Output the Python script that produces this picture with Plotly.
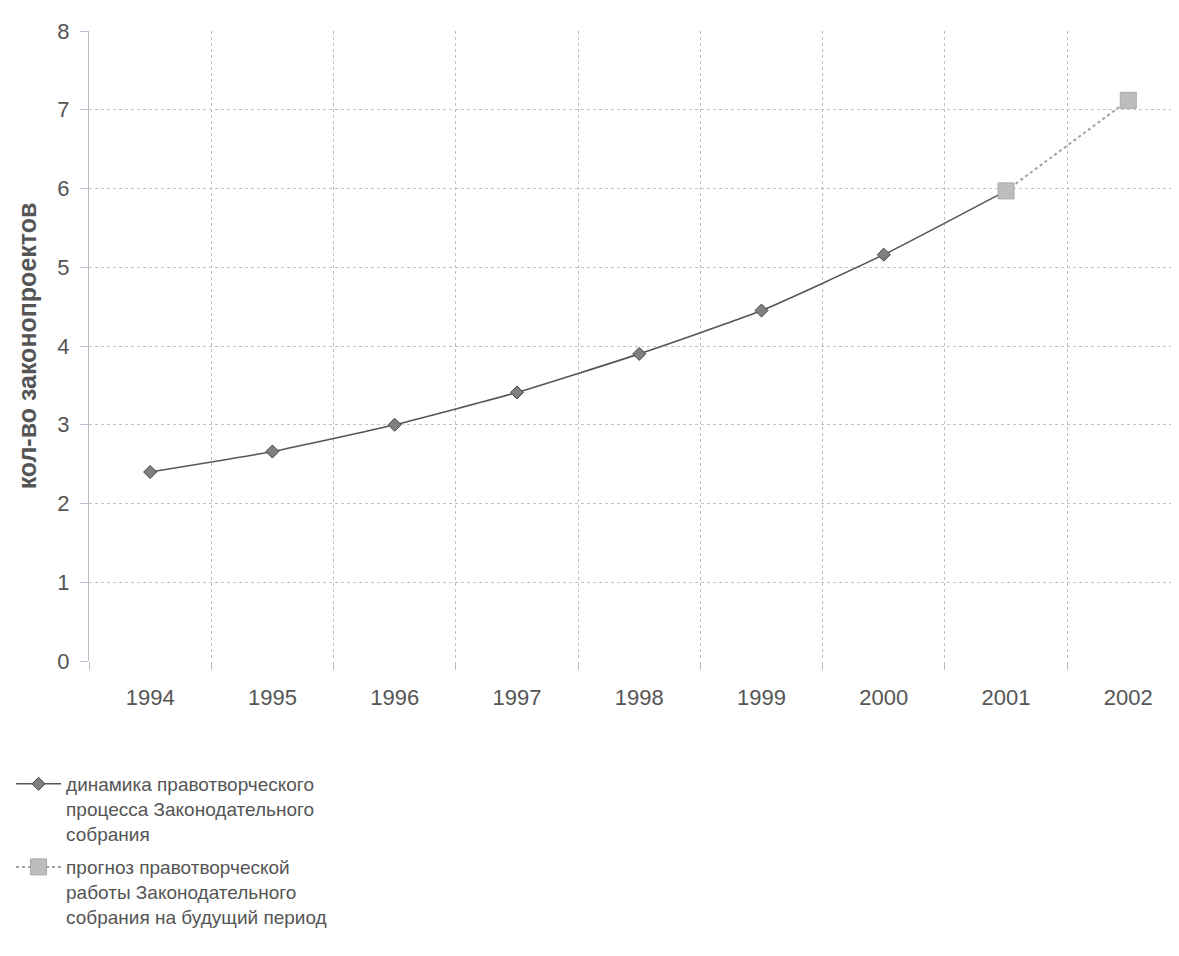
import plotly.graph_objects as go

years = ["1994", "1995", "1996", "1997", "1998", "1999", "2000", "2001", "2002"]
actual_years = ["1994", "1995", "1996", "1997", "1998", "1999", "2000", "2001"]
actual_values = [2.40, 2.66, 3.00, 3.41, 3.90, 4.45, 5.16, 5.97]
forecast_years = ["2001", "2002"]
forecast_values = [5.97, 7.12]
y_ticks = [0, 1, 2, 3, 4, 5, 6, 7, 8]

name_actual = "динамика правотворческого<br>процесса Законодательного<br>собрания"
name_forecast = "прогноз правотворческой<br>работы Законодательного<br>собрания на будущий период"

fig = go.Figure()
fig.add_trace(go.Scatter(
    x=actual_years, y=actual_values, name=name_actual, mode="lines+markers",
    line=dict(color="#555555", width=1.6, shape="spline", smoothing=0.5),
    marker=dict(symbol="diamond", size=10, color="#808080", line=dict(color="#444444", width=1)),
    legendgroup="a",
))
fig.add_trace(go.Scatter(
    x=forecast_years, y=forecast_values, name=name_forecast, mode="lines+markers",
    line=dict(color="#a0a0a0", width=2, dash="dot"),
    marker=dict(symbol="square", size=16, color="#bdbdbd", line=dict(color="#a8a8a8", width=1)),
    legendgroup="b",
))

fig.update_layout(
    width=1179, height=956,
    margin=dict(l=81, r=0, t=23, b=303, autoexpand=False),
    paper_bgcolor="white", plot_bgcolor="white",
    font=dict(family="Liberation Sans, Arial, sans-serif", color="#555555"),
    showlegend=True,
    legend=dict(
        x=-0.071, y=-0.165, xanchor="left", yanchor="top",
        font=dict(size=19, color="#555555"),
        itemwidth=45, tracegroupgap=6, traceorder="grouped", valign="top",
        bgcolor="rgba(0,0,0,0)",
    ),
)
fig.update_xaxes(
    type="category", categoryorder="array", categoryarray=years,
    range=[-0.5, 8.48], tickson="boundaries", automargin=False,
    showgrid=True, gridcolor="#bdbdbd", griddash="dot", gridwidth=1,
    ticks="outside", ticklen=8, tickcolor="#bdbdbd",
    tickfont=dict(size=22, color="#555555"), ticklabelstandoff=21,
    showline=False, zeroline=False,
)
fig.update_yaxes(
    range=[0, 8], tickvals=y_ticks, automargin=False,
    showgrid=True, gridcolor="#c6bed6", griddash="dot", gridwidth=1,
    ticks="outside", ticklen=8, tickcolor="#c6bed6",
    tickfont=dict(size=22, color="#555555"), ticklabelstandoff=6,
    showline=True, linecolor="#bdbdbd", linewidth=1,
    zeroline=False,
    title=dict(text="кол-во законопроектов", font=dict(size=25, color="#555555", family="Liberation Sans, Arial, sans-serif", weight="bold"), standoff=13),
)

fig.write_html("out.html")
